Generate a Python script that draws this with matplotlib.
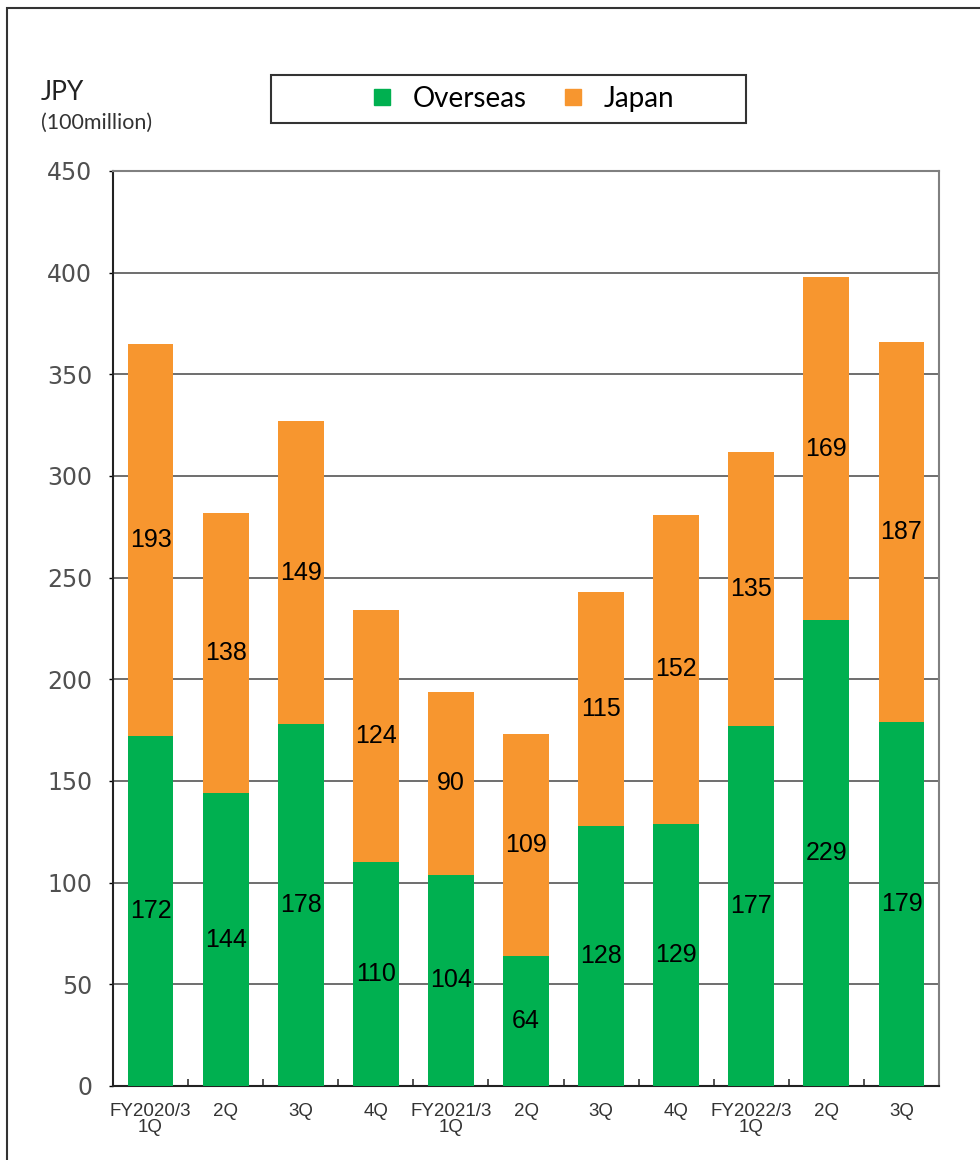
import numpy as np
import matplotlib.pyplot as plt
from matplotlib.lines import Line2D
from matplotlib.patches import Rectangle

# quarters
categories = ['FY2020/3\n1Q', '2Q', '3Q', '4Q', 'FY2021/3\n1Q', '2Q', '3Q', '4Q',
              'FY2022/3\n1Q', '2Q', '3Q']
overseas = [172, 144, 178, 110, 104, 64, 128, 129, 177, 229, 179]
japan = [193, 138, 149, 124, 90, 109, 115, 152, 135, 169, 187]
y_ticks = [0, 50, 100, 150, 200, 250, 300, 350, 400, 450]

GREEN = '#00B050'
ORANGE = '#F7962F'

fig = plt.figure(figsize=(9.8, 11.6), dpi=100)
ax = fig.add_axes([0.1153, 0.0638, 0.8429, 0.7888])

x = np.arange(len(categories))
b1 = ax.bar(x, overseas, width=0.61, color=GREEN, zorder=3)
b2 = ax.bar(x, japan, width=0.61, bottom=overseas, color=ORANGE, zorder=3)

ax.bar_label(b1, label_type='center', fontsize=18, family='Liberation Sans', color='black')
ax.bar_label(b2, label_type='center', fontsize=18, family='Liberation Sans', color='black')

ax.set_xlim(-0.5, len(categories) - 0.5)
ax.set_ylim(0, 450)
ax.set_yticks(y_ticks)
ax.tick_params(axis='y', labelsize=17, labelcolor='#505050', length=3, pad=12, width=1)
for t in ax.get_yticklabels():
    t.set_family('DejaVu Sans')

ax.set_xticks(x)
ax.set_xticklabels(categories, family='Liberation Sans', fontsize=13.5, color='#333333',
                   linespacing=0.95)
ax.tick_params(axis='x', which='major', length=0, pad=12)
ax.set_xticks(np.arange(0.5, len(categories) - 0.5), minor=True)
ax.tick_params(axis='x', which='minor', direction='in', length=5, width=1.2, color='#333333')

ax.yaxis.grid(True, color='#555555', linewidth=1.2, zorder=0)
ax.set_axisbelow(True)
for side in ['left', 'bottom']:
    ax.spines[side].set_color('#222222')
    ax.spines[side].set_linewidth(1.5)
for side in ['top', 'right']:
    ax.spines[side].set_color('#808080')
    ax.spines[side].set_linewidth(1.5)

# legend box
fig.patches.append(Rectangle((0.2765, 0.894), 0.4847, 0.0414, transform=fig.transFigure,
                             fill=False, edgecolor='#333333', linewidth=1.5))
handles = [Line2D([], [], marker='s', linestyle='none', markersize=11, color=GREEN),
           Line2D([], [], marker='s', linestyle='none', markersize=11, color=ORANGE)]
fig.legend(handles, ['Overseas', 'Japan'], loc='center', bbox_to_anchor=(0.532, 0.9147),
           ncol=2, frameon=False, prop={'family': 'Lato', 'size': 20},
           handletextpad=0.6, columnspacing=1.17, handlelength=1.0)

fig.text(0.0418, 0.914, 'JPY', family='Lato', fontsize=19, color='#222222', va='baseline')
fig.text(0.0418, 0.889, '(100million)', family='Lato', fontsize=15.5, color='#333333',
         va='baseline')

# outer frame
fig.patches.append(Rectangle((0.0071, -0.01), 1.1, 1.0035, transform=fig.transFigure,
                             fill=False, edgecolor='#333333', linewidth=1.5))

fig.savefig('out.png', dpi=100)
